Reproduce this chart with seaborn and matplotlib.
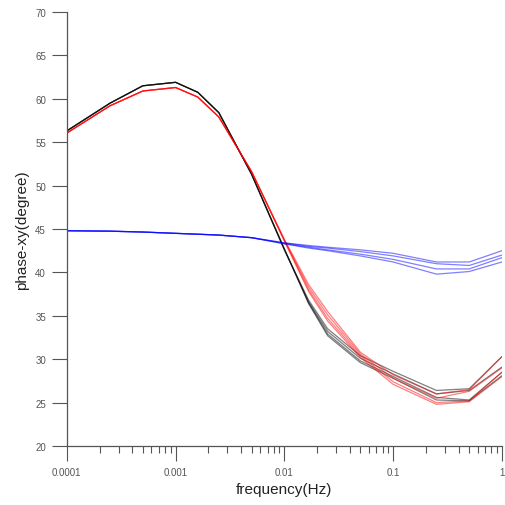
import numpy as np
import pandas as pd
import matplotlib
matplotlib.use("Agg")
import matplotlib.pyplot as plt
import seaborn as sns

freq = [1e-4, 2.5e-4, 5e-4, 1e-3, 1.6e-3, 2.5e-3, 5e-3, 0.01, 0.0167, 0.025, 0.05, 0.1, 0.25, 0.5, 1.0]

low_black = [56.3, 59.5, 61.5, 61.9, 60.75, 58.4, 51.3]
low_red = [56.05, 59.2, 60.9, 61.3, 60.2, 57.9, 51.6]
low_blue = [44.8, 44.75, 44.65, 44.5, 44.4, 44.3, 44.0]

black_hi = {
    "B1": [42.6, 36.8, 33.5, 30.4, 28.6, 26.4, 26.6, 30.3],
    "B2": [42.6, 36.6, 33.2, 30.1, 28.3, 26.0, 26.4, 29.1],
    "B3": [42.7, 36.5, 32.9, 29.8, 28.0, 25.6, 25.3, 28.5],
    "B4": [42.7, 36.4, 32.7, 29.6, 27.8, 25.3, 25.2, 28.1],
}
red_hi = {
    "R1": [43.8, 38.6, 35.5, 30.8, 28.2, 26.0, 26.5, 30.3],
    "R2": [43.7, 38.3, 35.1, 30.6, 27.8, 25.5, 26.3, 29.0],
    "R3": [43.7, 38.0, 34.7, 30.4, 27.4, 25.0, 25.2, 28.5],
    "R4": [43.6, 37.8, 34.4, 30.2, 27.1, 24.8, 25.1, 28.0],
}
blue_hi = {
    "L1": [43.4, 43.1, 42.9, 42.6, 42.2, 41.2, 41.2, 42.5],
    "L2": [43.4, 43.0, 42.8, 42.4, 41.9, 41.0, 40.8, 42.0],
    "L3": [43.3, 42.9, 42.6, 42.1, 41.5, 40.4, 40.4, 41.7],
    "L4": [43.3, 42.8, 42.5, 41.9, 41.2, 39.8, 40.1, 41.2],
}

rows = []
for group, low, hi in [("black", low_black, black_hi), ("red", low_red, red_hi), ("blue", low_blue, blue_hi)]:
    for name, vals in hi.items():
        for f, v in zip(freq, low + vals):
            rows.append({"freq": f, "phase": v, "curve": name, "group": group})
df = pd.DataFrame(rows)

sns.set_style("ticks")
plt.rcParams["font.family"] = ["Liberation Sans", "DejaVu Sans"]

fig = plt.figure(figsize=(5.06, 5.06), dpi=100)
ax = fig.add_axes([0.132, 0.1166, 0.860, 0.8577])

palette = {"black": "#000000", "red": "#ff0000", "blue": "#0000ff"}
for group in ["black", "red", "blue"]:
    sub = df[df.group == group]
    sns.lineplot(data=sub, x="freq", y="phase", units="curve", estimator=None,
                 color=palette[group], lw=0.9, alpha=0.5, ax=ax, legend=False)

ax.set_xscale("log")
ax.set_xlim(1e-4, 1)
ax.set_ylim(20, 70)
ax.set_yticks(np.arange(20, 71, 5))
ax.set_xticks([1e-4, 1e-3, 1e-2, 1e-1, 1])
ax.set_xticklabels(["0.0001", "0.001", "0.01", "0.1", "1"])
ax.xaxis.set_minor_locator(matplotlib.ticker.LogLocator(base=10, subs=np.arange(2, 10), numticks=20))
ax.xaxis.set_minor_formatter(matplotlib.ticker.NullFormatter())

for s in ["top", "right"]:
    ax.spines[s].set_visible(False)
for s in ["left", "bottom"]:
    ax.spines[s].set_color("#555555")
    ax.spines[s].set_linewidth(0.9)

ax.tick_params(axis="both", which="major", direction="out", length=11, width=0.8,
               colors="#555555", labelsize=7, labelcolor="#555555", pad=4)
ax.tick_params(axis="x", which="minor", direction="out", length=5, width=0.8, colors="#555555")

ax.set_xlabel("frequency(Hz)", fontsize=11, color="#222222", labelpad=4)
ax.set_ylabel("phase-xy(degree)", fontsize=11, color="#222222", labelpad=4)

fig.savefig("out.png", dpi=100, facecolor="white")
